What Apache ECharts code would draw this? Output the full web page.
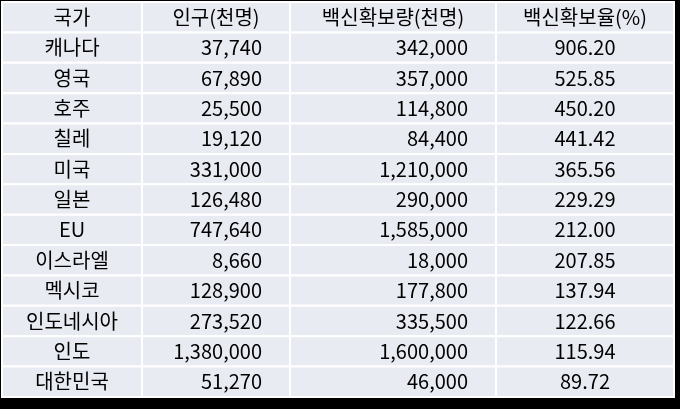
<!DOCTYPE html>
<html><head><meta charset="utf-8">
<script src="https://cdn.jsdelivr.net/npm/echarts@6/dist/echarts.min.js"></script>
<style>html,body{margin:0;padding:0;background:#000;}#c{width:680px;height:409px;}</style>
</head><body><div id="c"></div>
<script>
const headers = ['국가', '인구(천명)', '백신확보량(천명)', '백신확보율(%)'];
const countries = ['캐나다','영국','호주','칠레','미국','일본','EU','이스라엘','멕시코','인도네시아','인도','대한민국'];
const population = [37740,67890,25500,19120,331000,126480,747640,8660,128900,273520,1380000,51270];
const vaccines = [342000,357000,114800,84400,1210000,290000,1585000,18000,177800,335500,1600000,46000];
const ratio = [906.20,525.85,450.20,441.42,365.56,229.29,212.00,207.85,137.94,122.66,115.94,89.72];

// layout
const colEdges = [0,140,288,494,672];
const fmt = n => n.toLocaleString('en-US');
const rows = ['h'].concat(countries);
const cells = [];
headers.forEach((h,i)=>cells.push([i,0,h,'c']));
countries.forEach((c,r)=>{
  cells.push([0,r+1,c,'c']);
  cells.push([1,r+1,fmt(population[r]),'r']);
  cells.push([2,r+1,fmt(vaccines[r]),'r']);
  cells.push([3,r+1,ratio[r].toFixed(2),'c']);
});
const rightPad = [0, 28, 28, 0];
const chart = echarts.init(document.getElementById('c'));
chart.setOption({
  backgroundColor:'#000',
  animation:false,
  grid:{left:2,top:2,width:672,height:395},
  xAxis:{type:'value',min:0,max:672,show:false},
  yAxis:{type:'category',data:rows,inverse:true,show:false},
  series:[{
    type:'custom',
    data:cells.map(c=>[c[0],c[1]]),
    renderItem:(params,api)=>{
      const col=api.value(0), row=api.value(1);
      const text=cells[params.dataIndex][2], al=cells[params.dataIndex][3];
      const p0=api.coord([colEdges[col],row]);
      const p1=api.coord([colEdges[col+1],row]);
      const h=api.size([0,1])[1];
      const x=p0[0], w=p1[0]-p0[0], y=p0[1]-h/2;
      return {type:'group',children:[
        {type:'rect',shape:{x:x,y:y,width:w,height:h},style:{fill:'#e9ebf3',stroke:'#ffffff',lineWidth:2}},
        {type:'text',style:{text:text,x: al==='c'? x+w/2 : x+w-rightPad[col], y:y+h/2,
          align: al==='c'?'center':'right', verticalAlign:'middle',
          fontSize:20, fontFamily:'"Noto Sans CJK KR", "Noto Sans", sans-serif', fill:'#000'}}
      ]};
    }
  }]
});
</script></body></html>
